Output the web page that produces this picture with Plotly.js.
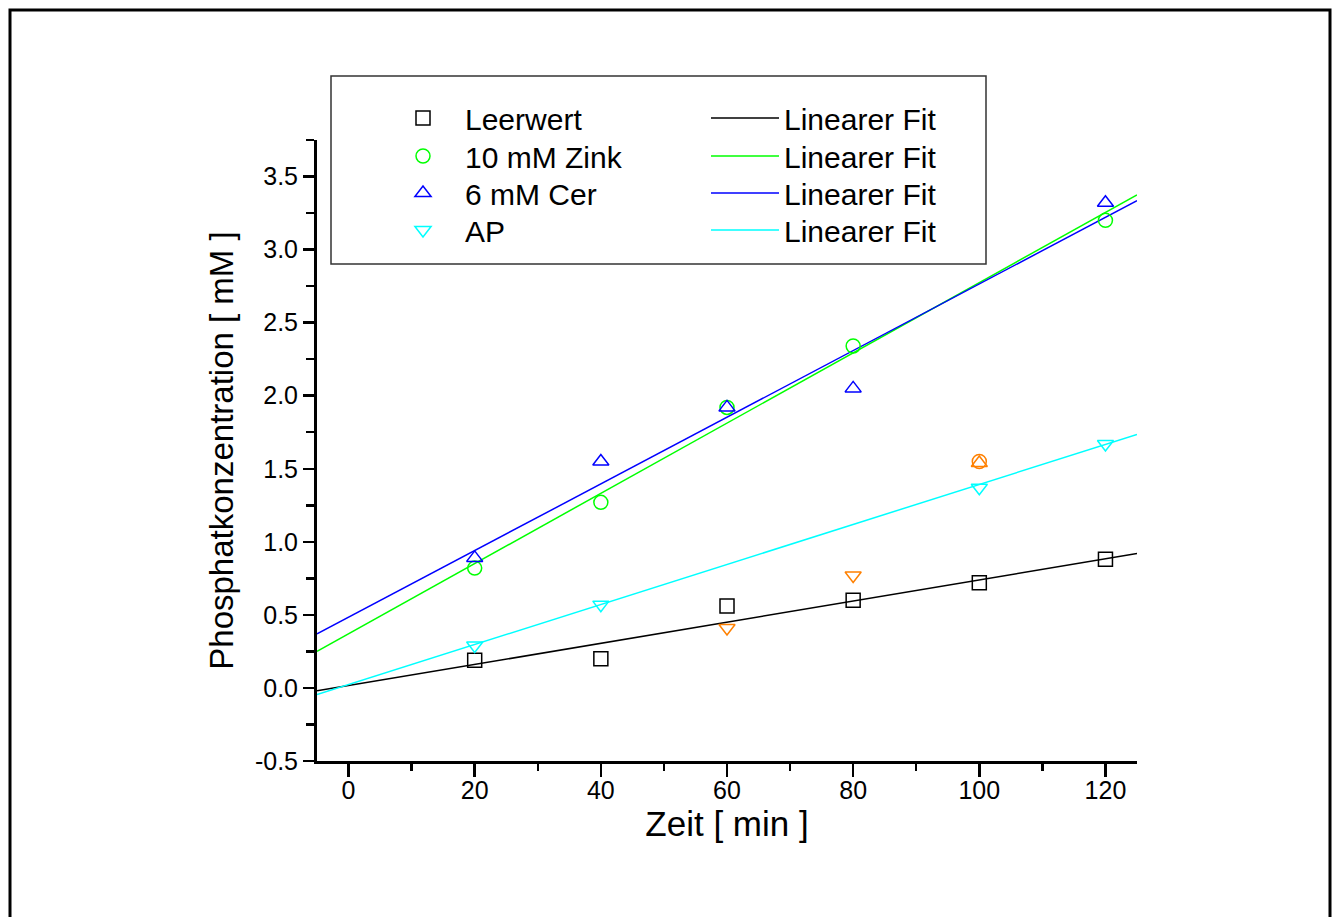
<!DOCTYPE html>
<html>
<head>
<meta charset="utf-8">
<script src="https://cdn.plot.ly/plotly-3.0.1.min.js"></script>
<style>html,body{margin:0;padding:0;background:#fff;}#chart{width:1337px;height:917px;}</style>
</head>
<body>
<div id="chart"></div>
<script>
// ---- data ----
const timeMin = [20, 40, 60, 80, 100, 120];
const leerwert = [0.19, 0.20, 0.56, 0.60, 0.72, 0.88];

const zinkX = [20, 40, 60, 80, 120];
const zink = [0.82, 1.27, 1.92, 2.34, 3.20];

const cerX = [20, 40, 60, 80, 120];
const cer = [0.89, 1.55, 1.92, 2.05, 3.32];

const apX = [20, 40, 100, 120];
const ap = [0.29, 0.57, 1.37, 1.67];

// masked (orange) points excluded from the fits
const maskedZinkX = [100];
const maskedZink = [1.55];
const maskedCerX = [100];
const maskedCer = [1.54];
const maskedApX = [60, 80];
const maskedAp = [0.41, 0.77];

// linear fit lines (end points)
const fitX = [-5, 125];
const fitLeer = [-0.02, 0.92];
const fitZink = [0.25, 3.375];
const fitCer = [0.37, 3.335];
const fitAp = [-0.045, 1.735];

const yTickVals = [-0.5, 0, 0.5, 1, 1.5, 2, 2.5, 3, 3.5];
const yTickText = ["-0.5", "0.0", "0.5", "1.0", "1.5", "2.0", "2.5", "3.0", "3.5"];
const xTickVals = [0, 20, 40, 60, 80, 100, 120];
const xTickText = ["0", "20", "40", "60", "80", "100", "120"];

const seriesNames = ["Leerwert", "10 mM Zink", "6 mM Cer", "AP"];
const fitName = "Linearer Fit";

// ---- styling ----
const SANS = "Liberation Sans, Arial, sans-serif";
const NARROW = "Liberation Sans Narrow, Arial Narrow, Liberation Sans, Arial, sans-serif";
const C_BLACK = "#000000", C_GREEN = "#00ff00", C_BLUE = "#0000ff", C_CYAN = "#00ffff", C_ORANGE = "#ff8000";
const MS = 14;

// plot area geometry in pixels (for placing legends / frames)
const L = 317, R = 1137, T = 140, B = 761;
const px2x = p => (p - L) / (R - L);
const px2y = p => (B - p) / (B - T);

function mk(x, y, name, sym, col, leg, show) {
  return {x: x, y: y, name: name, type: "scatter", mode: "markers",
    marker: {symbol: sym, size: MS, color: col, line: {color: col, width: 1.5}},
    legend: leg, showlegend: show, hoverinfo: "x+y"};
}
function fit(y, col, leg) {
  return {x: fitX, y: y, name: fitName, type: "scatter", mode: "lines",
    line: {color: col, width: 1.5}, legend: leg, showlegend: true, hoverinfo: "x+y"};
}

const traces = [
  fit(fitLeer, C_BLACK, "legend5"),
  fit(fitZink, C_GREEN, "legend6"),
  fit(fitCer, C_BLUE, "legend7"),
  fit(fitAp, C_CYAN, "legend8"),
  mk(timeMin, leerwert, seriesNames[0], "square-open", C_BLACK, "legend", true),
  mk(zinkX, zink, seriesNames[1], "circle-open", C_GREEN, "legend2", true),
  mk(cerX, cer, seriesNames[2], "triangle-up-open", C_BLUE, "legend3", true),
  mk(apX, ap, seriesNames[3], "triangle-down-open", C_CYAN, "legend4", true),
  mk(maskedZinkX, maskedZink, "masked", "circle-open", C_ORANGE, "legend", false),
  mk(maskedCerX, maskedCer, "masked", "triangle-up-open", C_ORANGE, "legend", false),
  mk(maskedApX, maskedAp, "masked", "triangle-down-open", C_ORANGE, "legend", false)
];

const rowsPx = [118, 156, 193, 230];
function legendAt(xpx, ypx, itemw) {
  return {x: px2x(xpx), y: px2y(ypx), xanchor: "left", yanchor: "middle",
    bgcolor: "rgba(0,0,0,0)", borderwidth: 0, itemwidth: itemw,
    font: {family: SANS, size: 30, color: "#000"},
    itemclick: false, itemdoubleclick: false};
}

const layout = {
  width: 1337, height: 917,
  margin: {l: L, r: 1337 - R, t: T, b: 917 - B, pad: 0},
  paper_bgcolor: "#ffffff", plot_bgcolor: "#ffffff",
  font: {family: SANS, color: "#000"},
  showlegend: true,
  legend: legendAt(381, rowsPx[0], 74),
  legend2: legendAt(381, rowsPx[1], 74),
  legend3: legendAt(381, rowsPx[2], 74),
  legend4: legendAt(381, rowsPx[3], 74),
  legend5: legendAt(706, rowsPx[0], 68),
  legend6: legendAt(706, rowsPx[1], 68),
  legend7: legendAt(706, rowsPx[2], 68),
  legend8: legendAt(706, rowsPx[3], 68),
  xaxis: {
    range: [-5, 125], showgrid: false, zeroline: false,
    showline: true, linecolor: "#000", linewidth: 3,
    ticks: "outside", ticklen: 13, tickwidth: 2.5, tickcolor: "#000",
    tickvals: xTickVals, ticktext: xTickText,
    tickfont: {family: NARROW, size: 25, color: "#000"},
    ticklabelstandoff: -8,
    minor: {tickvals: [10, 30, 50, 70, 90, 110], ticks: "outside", ticklen: 7, tickwidth: 2.5, tickcolor: "#000", showgrid: false},
    title: {text: "Zeit [ min ]", font: {family: NARROW, size: 35, color: "#000"}, standoff: 4}
  },
  yaxis: {
    range: [-0.5, 3.75], showgrid: false, zeroline: false,
    showline: true, linecolor: "#000", linewidth: 3,
    ticks: "outside", ticklen: 11, tickwidth: 2.5, tickcolor: "#000",
    tickvals: yTickVals, ticktext: yTickText,
    tickfont: {family: SANS, size: 25, color: "#000"},
    minor: {tickvals: [-0.25, 0.25, 0.75, 1.25, 1.75, 2.25, 2.75, 3.25, 3.75], ticks: "outside", ticklen: 8, tickwidth: 2.5, tickcolor: "#000", showgrid: false},
    title: {text: "Phosphatkonzentration [ mM ]", font: {family: SANS, size: 33, color: "#000"}, standoff: 12}
  },
  shapes: [
    {type: "rect", xref: "paper", yref: "paper", x0: px2x(331), x1: px2x(986), y0: px2y(264), y1: px2y(76),
      line: {color: "#333", width: 1.5}, fillcolor: "rgba(0,0,0,0)", layer: "below"},
    {type: "rect", xref: "paper", yref: "paper", x0: px2x(10), x1: px2x(1330), y0: px2y(940), y1: px2y(10),
      line: {color: "#000", width: 3}, fillcolor: "rgba(0,0,0,0)", layer: "below"}
  ]
};

Plotly.newPlot("chart", traces, layout, {displayModeBar: false, staticPlot: true});
</script>
</body>
</html>
